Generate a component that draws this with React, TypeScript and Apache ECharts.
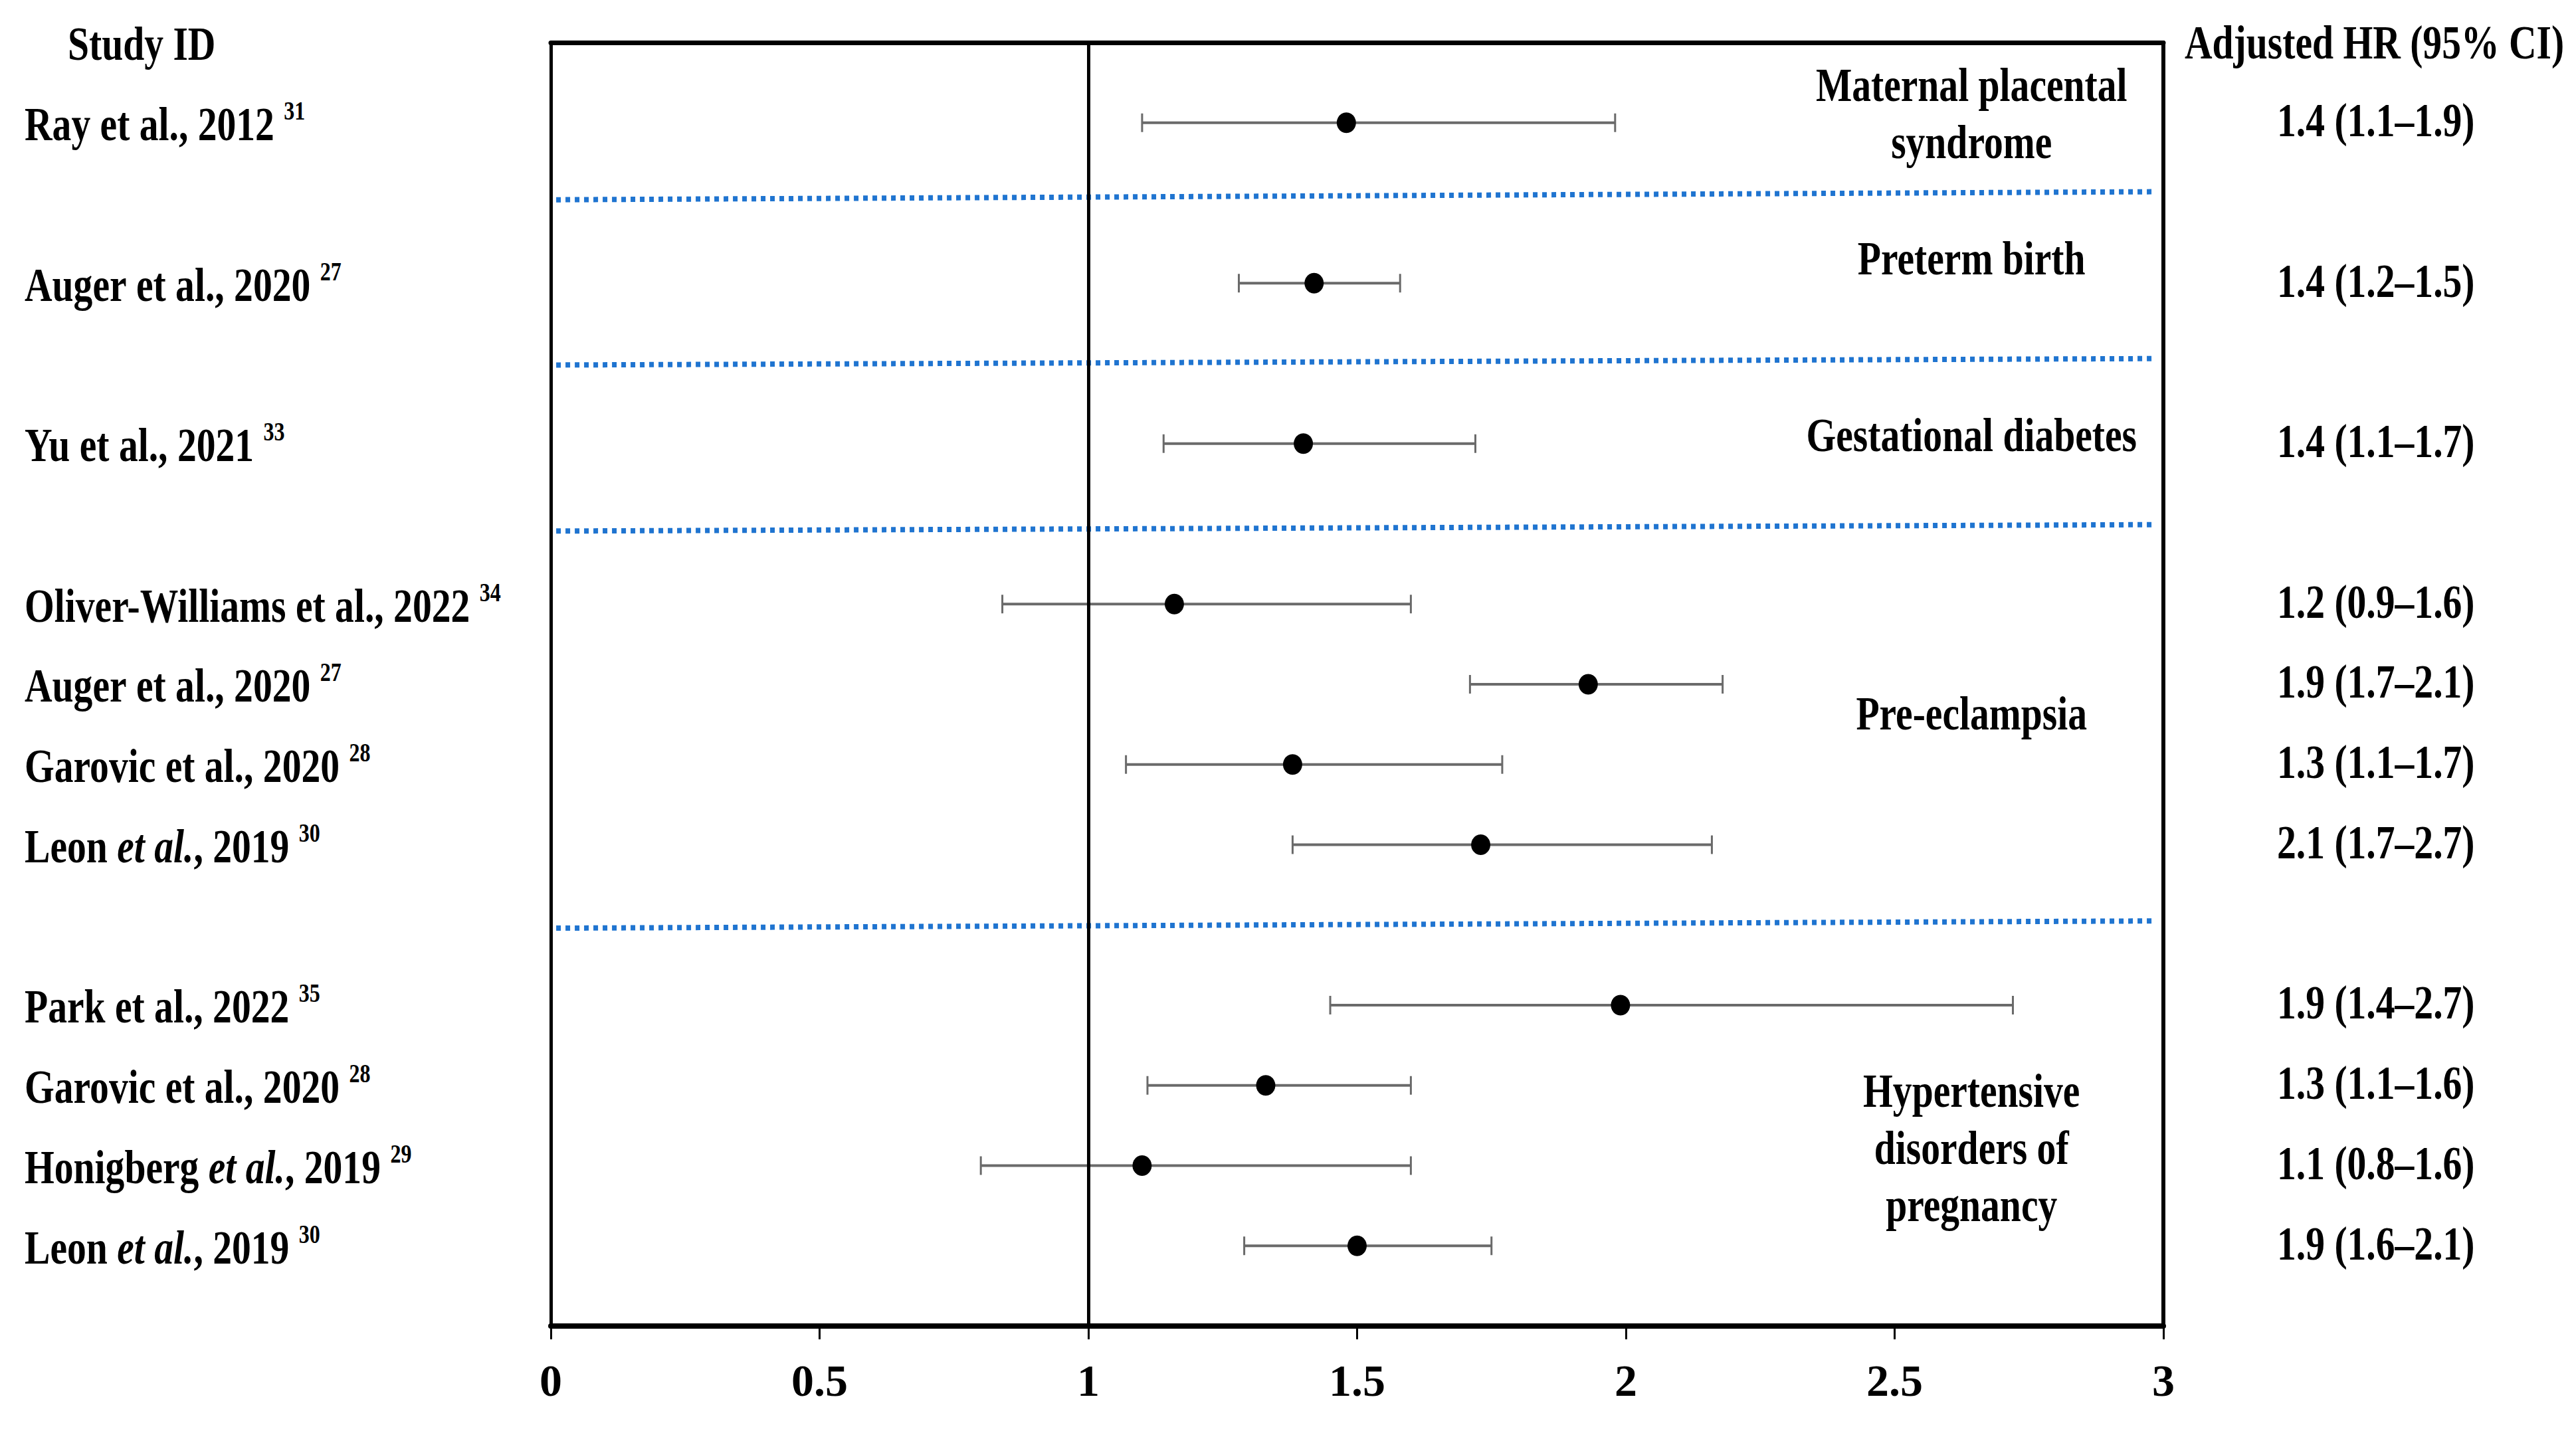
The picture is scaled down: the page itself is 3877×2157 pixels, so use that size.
import React, { useEffect, useRef } from "react";
import * as echarts from "echarts";

// ---------- data ----------
const studyAuthors = ["Ray", "Auger", "Yu", "Oliver-Williams", "Auger", "Garovic", "Leon", "Park", "Garovic", "Honigberg", "Leon"];
const studyItalicEtAl = [false, false, false, false, false, false, true, false, false, true, true];
const studyYears = ["2012", "2020", "2021", "2022", "2020", "2020", "2019", "2022", "2020", "2019", "2019"];
const studyRefs = ["31", "27", "33", "34", "27", "28", "30", "35", "28", "29", "30"];
const studyRows = [1, 3, 5, 7, 8, 9, 10, 12, 13, 14, 15];
const hr = [1.48, 1.42, 1.40, 1.16, 1.93, 1.38, 1.73, 1.99, 1.33, 1.10, 1.50];
const ciLow = [1.10, 1.28, 1.14, 0.84, 1.71, 1.07, 1.38, 1.45, 1.11, 0.80, 1.29];
const ciHigh = [1.98, 1.58, 1.72, 1.60, 2.18, 1.77, 2.16, 2.72, 1.60, 1.60, 1.75];
const hrText = [
  "1.4 (1.1–1.9)", "1.4 (1.2–1.5)", "1.4 (1.1–1.7)", "1.2 (0.9–1.6)", "1.9 (1.7–2.1)",
  "1.3 (1.1–1.7)", "2.1 (1.7–2.7)", "1.9 (1.4–2.7)", "1.3 (1.1–1.6)", "1.1 (0.8–1.6)", "1.9 (1.6–2.1)",
];
const groupNames = [
  "Maternal placental\nsyndrome",
  "Preterm birth",
  "Gestational diabetes",
  "Pre-eclampsia",
  "Hypertensive\ndisorders of\npregnancy",
];
// separators (dotted blue lines), y in row units at left / right ends
const sepLeftRow = [1.96, 4.02, 6.09, 11.04];
const sepRightRow = [1.86, 3.94, 6.01, 10.95];
const sepStartX = 0.01;
const sepEndX = 2.985;
const xTicks = [0, 0.5, 1, 1.5, 2, 2.5, 3];

// ---------- layout ----------
const W = 3877;
const H = 2157;
const FONT = "'Liberation Serif', 'Times New Roman', serif";
const FS = 72;
const SX = 0.8;
const groupLabelRows = [0.88, 2.69, 4.89, 8.36, 13.78];
const GROUP_LABEL_X = 2.643;
const STUDY_X = 37;
const HR_X = 3427;
const STUDY_DY = 2;
const HR_DY = -4;

const baseTok = { fontSize: FS, fontWeight: "bold", fontFamily: FONT, fill: "#000", lineHeight: 80 };
const rich = {
  n: { ...baseTok },
  i: { ...baseTok, fontStyle: "italic" },
  s: { fontSize: 40, fontWeight: "bold", fontFamily: FONT, fill: "#000", verticalAlign: "top", lineHeight: 80 },
};

function studyRich(i: number): string {
  const etal = studyItalicEtAl[i] ? `{i|et al.}` : `{n|et al.}`;
  return `{n|${studyAuthors[i]} }${etal}{n|, ${studyYears[i]} }{s|${studyRefs[i]}}`;
}

export default function App() {
  const ref = useRef<HTMLDivElement>(null);
  useEffect(() => {
    if (!ref.current) return;
    const chart = echarts.init(ref.current, null, { renderer: "svg" });
    const option: any = {
      animation: false,
      backgroundColor: "#ffffff",
      grid: { left: 829, right: W - 3256, top: 64, bottom: H - 1996, containLabel: false },
      xAxis: [
        {
          type: "value",
          min: 0,
          max: 3,
          interval: 0.5,
          position: "bottom",
          axisLine: { show: true, onZero: false, lineStyle: { color: "#000", width: 8 } },
          axisTick: { show: true, inside: false, length: 20, lineStyle: { color: "#000", width: 3 } },
          axisLabel: {
            show: true,
            fontSize: 68,
            fontWeight: "bold",
            fontFamily: FONT,
            color: "#000",
            margin: 48,
            formatter: (v: number) => (xTicks.includes(v) ? String(v) : ""),
          },
          splitLine: { show: false },
        },
        {
          type: "value",
          min: 0,
          max: 3,
          position: "top",
          axisLine: { show: true, onZero: false, lineStyle: { color: "#000", width: 7 } },
          axisTick: { show: false },
          axisLabel: { show: false },
          splitLine: { show: false },
        },
      ],
      yAxis: [
        {
          type: "value",
          min: 0,
          max: 16,
          inverse: true,
          position: "left",
          axisLine: { show: true, onZero: false, lineStyle: { color: "#000", width: 5 } },
          axisTick: { show: false },
          axisLabel: { show: false },
          splitLine: { show: false },
        },
        {
          type: "value",
          min: 0,
          max: 16,
          inverse: true,
          position: "right",
          axisLine: { show: true, onZero: false, lineStyle: { color: "#000", width: 6 } },
          axisTick: { show: false },
          axisLabel: { show: false },
          splitLine: { show: false },
        },
      ],
      graphic: [
        {
          type: "text",
          x: 102,
          y: 66,
          scaleX: SX,
          style: { text: "Study ID", fill: "#000", fontSize: FS, fontWeight: "bold", fontFamily: FONT, verticalAlign: "middle", align: "left" },
        },
        {
          type: "text",
          x: 3288,
          y: 64,
          scaleX: SX,
          style: { text: "Adjusted HR (95% CI)", fill: "#000", fontSize: FS, fontWeight: "bold", fontFamily: FONT, verticalAlign: "middle", align: "left" },
        },
      ],
      series: [
        {
          type: "custom",
          name: "separators",
          coordinateSystem: "cartesian2d",
          silent: true,
          z: 1,
          data: sepLeftRow.map((l, i) => [sepStartX, l, sepEndX, sepRightRow[i]]),
          renderItem: (_p: any, api: any) => {
            const a = api.coord([api.value(0), api.value(1)]);
            const b = api.coord([api.value(2), api.value(3)]);
            return {
              type: "line",
              shape: { x1: a[0], y1: a[1], x2: b[0], y2: b[1] },
              style: { stroke: "#1f74d0", lineWidth: 8, lineDash: [7, 7], fill: null },
            };
          },
        },
        {
          type: "custom",
          name: "ci",
          coordinateSystem: "cartesian2d",
          silent: true,
          z: 3,
          data: studyRows.map((r, i) => [ciLow[i], ciHigh[i], r]),
          renderItem: (_p: any, api: any) => {
            const lo = api.coord([api.value(0), api.value(2)]);
            const hi = api.coord([api.value(1), api.value(2)]);
            const st = { stroke: "#6a6a6a", lineWidth: 4, fill: null };
            const cs = { stroke: "#6a6a6a", lineWidth: 3, fill: null };
            return {
              type: "group",
              children: [
                { type: "line", shape: { x1: lo[0], y1: lo[1], x2: hi[0], y2: hi[1] }, style: st },
                { type: "line", shape: { x1: lo[0], y1: lo[1] - 14, x2: lo[0], y2: lo[1] + 14 }, style: cs },
                { type: "line", shape: { x1: hi[0], y1: hi[1] - 14, x2: hi[0], y2: hi[1] + 14 }, style: cs },
              ],
            };
          },
        },
        {
          type: "scatter",
          name: "HR",
          symbol: "circle",
          symbolSize: [29, 31],
          z: 5,
          itemStyle: { color: "#000", opacity: 1 },
          data: studyRows.map((r, i) => [hr[i], r]),
          markLine: {
            silent: true,
            symbol: ["none", "none"],
            label: { show: false },
            lineStyle: { color: "#000", width: 5, type: "solid" },
            data: [{ xAxis: 1 }],
          },
        },
        {
          type: "custom",
          name: "labels",
          coordinateSystem: "cartesian2d",
          silent: true,
          z: 6,
          data: studyRows.map((r, i) => [0, r, i]),
          renderItem: (_p: any, api: any) => {
            const i = api.value(2);
            const y = api.coord([0, api.value(1)])[1];
            return {
              type: "group",
              children: [
                {
                  type: "text",
                  x: STUDY_X,
                  y: y + STUDY_DY,
                  scaleX: SX,
                  style: { text: studyRich(i), rich, align: "left", verticalAlign: "middle" },
                },
                {
                  type: "text",
                  x: HR_X,
                  y: y + HR_DY,
                  scaleX: SX,
                  style: { text: hrText[i], fill: "#000", fontSize: FS, fontWeight: "bold", fontFamily: FONT, align: "left", verticalAlign: "middle" },
                },
              ],
            };
          },
        },
        {
          type: "custom",
          name: "groups",
          coordinateSystem: "cartesian2d",
          silent: true,
          z: 6,
          data: groupLabelRows.map((r, i) => [GROUP_LABEL_X, r, i]),
          renderItem: (_p: any, api: any) => {
            const i = api.value(2);
            const pt = api.coord([api.value(0), api.value(1)]);
            return {
              type: "text",
              x: pt[0],
              y: pt[1],
              scaleX: SX,
              style: {
                text: groupNames[i],
                fill: "#000",
                fontSize: FS,
                fontWeight: "bold",
                fontFamily: FONT,
                lineHeight: 86,
                align: "center",
                verticalAlign: "middle",
              },
            };
          },
        },
      ],
    };
    chart.setOption(option);
    return () => chart.dispose();
  }, []);
  return (
    <div
      ref={ref}
      style={{ position: "fixed", left: 0, top: 0, width: W, height: H, background: "#fff" }}
    />
  );
}
